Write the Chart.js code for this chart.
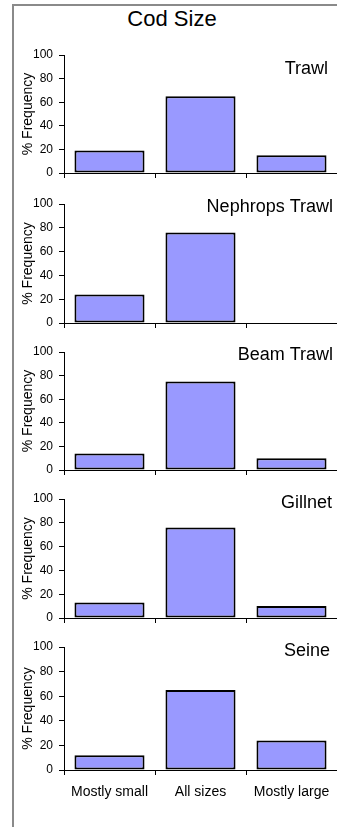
<!DOCTYPE html>
<html>
<head>
<meta charset="utf-8">
<script src="https://cdn.jsdelivr.net/npm/chart.js@4"></script>
<style>
  html, body { margin: 0; padding: 0; background: #fff; overflow: hidden; }
  body { width: 337px; height: 827px; position: relative; font-family: "Liberation Sans", Arial, sans-serif; }
  #frame { position: absolute; left: 12px; top: 4px; width: 400px; height: 900px;
           border-left: 2px solid #8a8a8a; border-top: 2px solid #8a8a8a; }
  #title { position: absolute; left: 72px; top: 8px; width: 200px; text-align: center;
           font-size: 22px; line-height: 1; color: #000; }
  canvas { position: absolute; left: 0; }
</style>
</head>
<body>
<div id="frame"></div>
<div id="title">Cod Size</div>

<script>
const sizeClasses = ["Mostly small", "All sizes", "Mostly large"];
const gearTypes = ["Trawl", "Nephrops Trawl", "Beam Trawl", "Gillnet", "Seine"];

// % frequency per size class, one array per gear
const trawl = [19, 65, 15];
const nephropsTrawl = [24, 76, 0];
const beamTrawl = [14, 75, 10];
const gillnet = [13, 76, 10];
const seine = [12, 65, 24];

const yTickLabels = [0, 20, 40, 60, 80, 100];

const gearValues = [trawl, nephropsTrawl, beamTrawl, gillnet, seine];

// plot box (top = 100 line, bottom = 0 line) and gear label anchor for each panel
const panels = [
    {top: 55, bottom: 173, labelX: 328, labelY: 74},
    {top: 204, bottom: 323, labelX: 333, labelY: 212},
    {top: 352, bottom: 470, labelX: 333, labelY: 360},
    {top: 499, bottom: 618, labelX: 332, labelY: 508},
    {top: 647, bottom: 770, labelX: 330, labelY: 656},
];

const padTop = 20;
const yAxisWidth = 64;

Chart.defaults.font.family = "'Liberation Sans', Arial, sans-serif";
Chart.defaults.color = "#000";

let gearLabelPlugin = {
    id: "gearLabel",
    afterDraw: (chart, args, opts) => {
        const {ctx} = chart;
        ctx.save();
        ctx.font = "18px 'Liberation Sans', Arial, sans-serif";
        ctx.fillStyle = "#000";
        ctx.textAlign = "right";
        ctx.textBaseline = "alphabetic";
        ctx.fillText(opts.text, opts.x, opts.y);
        ctx.restore();
    }
};

function makePanel(index) {
    const panel = panels[index];
    const isLast = index === panels.length - 1;
    const xAxisHeight = isLast ? 40 : 10;
    const canvasTop = panel.top - padTop;
    const canvasHeight = panel.bottom - panel.top + padTop + xAxisHeight;

    const canvas = document.createElement("canvas");
    canvas.width = 337;
    canvas.height = canvasHeight;
    canvas.style.top = canvasTop + "px";
    document.body.appendChild(canvas);

    return new Chart(canvas, {
        type: "bar",
        plugins: [gearLabelPlugin],
        data: {
            labels: sizeClasses,
            datasets: [{
                data: gearValues[index],
                backgroundColor: "#9999ff",
                borderColor: "#000",
                borderWidth: 2,
                borderSkipped: false,
                categoryPercentage: 1,
                barPercentage: 0.77,
            }]
        },
        options: {
            responsive: false,
            animation: false,
            layout: {
                autoPadding: false,
                padding: {top: padTop, left: 0, right: 0, bottom: 0}
            },
            plugins: {
                legend: {display: false},
                tooltip: {enabled: false},
                gearLabel: {
                    text: gearTypes[index],
                    x: panel.labelX,
                    y: panel.labelY - canvasTop
                }
            },
            scales: {
                x: {
                    grid: {
                        offset: true,
                        drawOnChartArea: false,
                        tickLength: 5,
                        color: "#000"
                    },
                    border: {color: "#000", width: 1},
                    ticks: {
                        display: isLast,
                        maxRotation: 0,
                        padding: 9,
                        font: {size: 14}
                    },
                    afterFit: (scale) => {
                        scale.height = xAxisHeight;
                        scale.paddingLeft = 0;
                        scale.paddingRight = 0;
                    }
                },
                y: {
                    min: 0,
                    max: 100,
                    grid: {
                        drawOnChartArea: false,
                        tickLength: 5,
                        color: "#000"
                    },
                    border: {color: "#000", width: 1},
                    ticks: {
                        stepSize: 10,
                        padding: 6,
                        font: {size: 12},
                        callback: (value) => yTickLabels.includes(value) ? value : ""
                    },
                    title: {
                        display: true,
                        text: "% Frequency",
                        font: {size: 14},
                        padding: {top: 20, bottom: 0}
                    },
                    // keep the 0 and 100 labels from pushing the plot box in
                    afterFit: (scale) => {
                        scale.width = yAxisWidth;
                        scale.paddingTop = 0;
                        scale.paddingBottom = 0;
                    }
                }
            }
        }
    });
}

panels.forEach((p, i) => makePanel(i));
</script>
</body>
</html>
